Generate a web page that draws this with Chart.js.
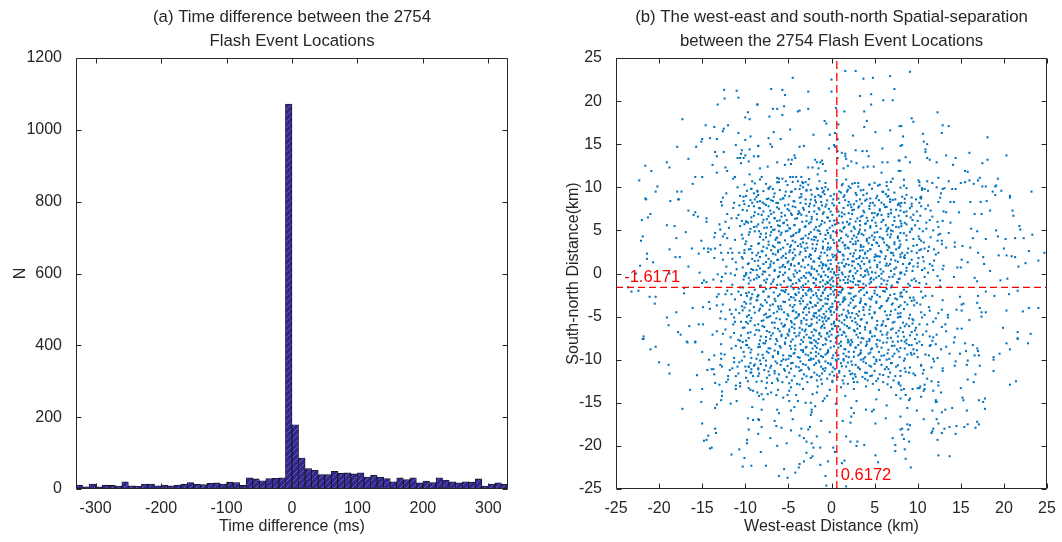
<!DOCTYPE html>
<html>
<head>
<meta charset="utf-8">
<title>Flash event separation</title>
<script src="https://cdn.jsdelivr.net/npm/chart.js@4.4.0/dist/chart.umd.min.js"></script>
<style>
  html, body { margin: 0; padding: 0; background: #fff; }
  #wrap { position: relative; width: 1062px; height: 542px; }
  canvas { position: absolute; top: 0; }
  #histChart { left: 0; }
  #scatterChart { left: 531px; }
</style>
</head>
<body>
<div id="wrap">
  <canvas id="histChart" width="531" height="542"></canvas>
  <canvas id="scatterChart" width="531" height="542"></canvas>
</div>
<script>
// ---- (a) histogram data, 10 ms bins ----
const binCenters = [
  -325, -315, -305, -295, -285, -275, -265, -255, -245, -235, -225,
  -215, -205, -195, -185, -175, -165, -155, -145, -135, -125, -115,
  -105, -95, -85, -75, -65, -55, -45, -35, -25, -15, -5,
  5, 15, 25, 35, 45, 55, 65, 75, 85, 95, 105,
  115, 125, 135, 145, 155, 165, 175, 185, 195, 205, 215,
  225, 235, 245, 255, 265, 275, 285, 295, 305, 315, 325
];
const binCounts = [
  11, 6, 14, 6, 11, 10, 8, 20, 9, 8, 14,
  14, 9, 11, 9, 11, 14, 18, 13, 12, 16, 17,
  14, 19, 18, 10, 31, 28, 23, 29, 30, 31, 1072,
  179, 86, 57, 52, 40, 40, 49, 44, 45, 42, 45,
  33, 39, 33, 29, 20, 31, 26, 31, 17, 22, 18,
  31, 25, 20, 17, 20, 19, 28, 8, 14, 17, 13
];
const histTicks = [-300, -200, -100, 0, 100, 200, 300];

// ---- (b) west-east / south-north separations (km) ----
const meanEast = 0.6172;
const meanNorth = -1.6171;

// sparse outer points
const outerPoints = [
  [-12.45,21.3],[-11.0,21.2],[-12.4,20.3],[-10.8,20.4],[-13.2,19.6],[-8.6,19.6],[-9.7,18.7],[-10.0,18.1],[-9.5,17.9],[-17.3,17.9],
  [-14.6,17.2],[-13.6,17.0],[-12.0,17.2],[-12.5,16.8],[-12.6,16.5],[-10.8,16.3],[-9.4,15.9],[-15.0,15.6],[-15.1,15.3],[-14.1,15.7],
  [-13.3,15.6],[-10.0,15.5],[-17.9,14.7],[-15.7,14.7],[-11.1,14.9],[-8.5,14.8],[-9.5,14.4],[-10.4,14.3],[-13.5,14.1],[-12.5,14.1],
  [-10.5,13.9],[-13.3,13.6],[-10.0,13.7],[-9.0,13.6],[-8.5,13.6],[-10.9,13.4],[-10.6,13.4],[-10.2,13.4],[-16.6,13.3],[-9.6,13.0],
  [-10.5,12.8],[-19.1,12.9],[-13.8,12.6],[-21.6,12.5],[-18.8,12.3],[-12.3,12.3],[-12.1,11.9],[-20.9,11.9],[-9.5,11.5],[-13.3,11.7],
  [-15.8,11.2],[-15.0,11.2],[-11.2,11.2],[-11.4,11.0],[-9.2,10.7],[-22.3,10.8],[-16.1,10.4],[-10.1,10.3],[-20.2,10.1],[-10.9,10.0],
  [-9.3,9.8],[-9.8,9.6],[-8.6,9.6],[-9.0,9.3],[-20.4,9.5],[-17.9,9.5],[-17.4,9.5],[-12.2,9.3],[-10.6,9.0],[-9.9,9.0],
  [-8.9,8.6],[-21.6,8.7],[-17.8,8.6],
  [1.6,23.5],[2.8,23.5],[0.0,22.5],[-4.5,22.7],[3.7,22.6],[4.8,22.7],[6.8,22.9],[-7.0,21.4],[-5.7,21.3],[-5.4,20.7],
  [-2.7,21.1],[0.0,21.1],[7.3,21.4],[3.3,20.6],[4.6,20.8],[6.0,20.1],[7.1,20.1],[-8.6,19.6],[-6.8,19.1],[-6.3,19.1],
  [-5.5,19.4],[-2.7,19.1],[-3.9,18.8],[-3.7,18.9],[0.5,19.2],[1.5,18.8],[4.6,19.6],[3.8,18.8],[-7.2,18.2],[-5.7,18.4],
  [4.1,17.7],[-0.8,17.7],[-0.6,17.4],[0.8,17.3],[3.8,17.0],[7.9,17.1],[-4.8,16.7],[-6.7,16.4],[-2.1,16.1],[-0.2,16.1],
  [0.4,16.3],[2.5,16.0],[5.1,16.4],[6.8,16.6],[-7.3,15.7],[-5.9,15.6],[0.7,15.6],[-7.1,15.0],[-6.9,14.7],[-8.5,14.8],
  [-3.7,14.7],[-3.2,14.8],[-0.3,14.5],[0.3,14.9],[0.4,14.7],[0.7,14.2],[1.2,14.0],[1.6,13.9],[2.8,14.3],[3.6,14.2],
  [4.1,14.2],[5.9,14.5],[8.0,14.8],[-8.5,13.6],[-5.0,13.2],[-4.6,13.2],[-4.3,13.7],[-4.2,13.4],[-6.3,12.9],[-5.4,12.6],
  [-4.7,12.7],[-1.9,13.2],[-1.7,12.9],[-1.3,12.9],[-1.1,13.1],[-1.0,12.7],[0.7,13.4],[1.6,13.6],[1.7,13.3],[2.3,13.0],
  [2.9,12.8],[4.3,13.6],[3.7,12.3],[4.2,12.4],[4.9,12.4],[5.9,12.9],[6.5,12.9],[7.8,13.1],[-8.3,12.2],[-7.4,12.4],
  [-2.7,12.3],[-2.2,12.3],[-1.5,12.2],[-0.7,11.9],[-1.6,11.5],[1.4,12.2],[1.9,12.5],[5.8,11.7],[7.8,11.9],[-8.1,11.2],
  [-6.3,11.1],[-6.1,11.0],[-5.7,11.0],[-5.3,10.7],[-4.8,11.2],[-4.5,11.2],[-4.1,11.2],[-3.5,11.2],[-3.9,10.7],[-3.4,10.6],
  [-3.0,10.6],[-2.7,10.3],[-7.6,10.4],[-6.1,10.6],[-3.6,10.2],[-3.3,10.0],[-3.7,9.8],[-2.9,9.7],[-2.4,9.7],[-1.6,9.8],
  [-1.1,9.9],[-0.9,9.6],[-0.7,10.5],[-0.8,9.2],[-1.5,9.1],[-1.9,8.9],[-1.3,8.9],[-0.1,9.0],[1.1,9.4],[1.3,10.4],
  [1.8,9.5],[1.9,9.7],[2.0,10.1],[1.7,10.9],[2.7,10.5],[3.1,10.5],[3.7,9.7],[4.4,10.3],[5.4,10.2],[5.6,10.3],
  [6.4,10.6],[7.1,11.0],[5.9,9.5],[6.3,9.2],[6.6,9.0],[3.7,9.1],[4.5,8.7],[2.9,9.1],[-8.6,9.5],[-7.3,9.8],
  [-6.8,9.8],[-4.6,9.5],[-5.3,9.5],[-7.3,8.7],[-6.7,8.9],[-5.9,8.6],[-3.5,8.9],[6.8,8.6],
  [9.1,23.4],[12.3,18.7],[9.3,18.0],[9.5,17.6],[12.9,17.2],[13.6,17.1],[8.1,17.1],[12.8,16.3],[10.6,16.2],[8.3,15.9],
  [18.1,15.8],[10.7,15.3],[11.1,15.0],[8.2,14.9],[10.9,14.4],[10.9,14.1],[16.0,14.0],[13.3,13.7],[8.6,13.5],[11.1,13.4],
  [11.4,13.2],[14.4,13.4],[20.3,13.7],[7.9,13.1],[9.1,12.9],[12.2,12.9],[18.1,13.2],[17.5,12.8],[14.1,12.6],[8.0,11.9],
  [15.5,11.9],[15.8,11.8],[12.4,11.1],[17.2,11.1],[19.3,11.0],[10.1,10.8],[10.2,10.6],[11.1,10.7],[13.6,10.7],[16.0,10.8],
  [17.0,10.8],[15.5,10.6],[15.0,10.5],[11.7,10.5],[16.5,10.4],[8.4,10.2],[10.2,10.2],[19.1,10.2],[19.0,10.1],[12.2,10.0],
  [13.1,9.9],[12.9,9.8],[14.0,9.8],[14.4,9.8],[17.5,10.1],[17.9,10.1],[8.7,9.9],[10.5,9.9],[10.8,9.8],[10.5,9.7],
  [11.2,9.6],[12.7,9.3],[18.7,9.5],[19.7,9.6],[23.2,9.5],[19.0,9.1],[20.7,9.0],[10.3,8.8],[10.4,8.9],[8.2,8.9],
  [-21.5,8.6],[-18.7,8.4],[-17.7,8.6],[-12.8,8.3],[-12.7,7.9],[-11.3,8.2],[-10.7,7.9],[-10.2,8.4],[-9.2,8.2],[-9.0,7.8],
  [-8.6,8.3],[-16.6,7.3],[-15.8,7.1],[-16.0,6.8],[-15.5,6.6],[-21.0,6.9],[-21.3,6.5],[-22.0,6.2],[-14.5,6.4],[-14.5,6.0],
  [-13.0,5.7],[-12.3,6.0],[-11.6,6.4],[-11.0,6.4],[-10.4,6.1],[-9.9,6.0],[-9.3,6.0],[-9.0,6.7],[-9.0,5.4],[-9.5,4.8],
  [-10.4,4.5],[-8.4,4.9],[-19.1,5.6],[-18.2,5.5],[-16.9,4.8],[-13.5,4.7],[-12.9,5.1],[-12.6,4.3],[-12.1,4.1],[-13.6,4.2],
  [-21.9,4.3],[-22.1,3.8],[-18.0,4.1],[-15.1,3.8],[-18.8,2.8],[-16.2,2.9],[-14.8,2.9],[-14.3,2.9],[-14.0,2.8],[-13.5,2.9],
  [-14.3,2.5],[-15.4,2.3],[-21.4,2.3],[-18.1,1.9],[-17.6,1.9],[-21.4,1.7],[-20.7,1.3],[-12.8,2.4],[-12.0,2.4],[-11.5,2.4],
  [-10.7,2.4],[-10.1,2.7],[-9.6,2.8],[-9.2,2.4],[-8.5,2.4],[-13.6,1.8],[-12.6,1.6],[-11.5,1.7],[-11.1,1.3],[-9.2,1.7],
  [-10.3,0.7],[-9.1,0.4],[-8.7,0.4],[-22.2,0.9],[-22.7,0.0],[-18.8,0.0],[-16.6,0.8],[-15.3,0.1],[-14.8,-0.8],[-14.5,-1.0],
  [-13.7,-0.7],[-15.0,-1.1],[-13.2,-0.1],[-12.7,-0.4],[-12.3,0.0],[-11.7,0.0],[-11.2,-0.2],[-10.1,-0.3],[-10.2,-0.7],[-9.6,-0.5],
  [-9.4,0.1],[-9.0,-0.7],[-8.6,-0.2],[-23.6,-1.6],[-23.2,-2.1],[-22.4,-2.0],[-21.1,-2.7],[-20.4,-2.7],[-20.5,-3.5],[-17.1,-1.7],
  [-17.1,-2.3],[-13.1,-2.4],[-12.3,-2.4],[-11.6,-2.4],[-10.8,-2.1],[-10.5,-2.5],[-9.8,-2.6],[-9.4,-3.0],[-9.2,-2.4],[-8.6,-2.7],
  [-13.3,-2.7],[-13.3,-3.7],[-14.2,-3.3],[-16.1,-4.0],[-14.9,-3.9],[-14.1,-4.1],[-12.8,-4.4],[-11.6,-4.7],[-11.1,-4.2],[-10.4,-3.8],
  [-9.9,-3.5],[-9.5,-4.3],[-9.0,-3.9],[-8.6,-3.1],[-19.1,-5.1],[-18.0,-4.5],[-18.9,-6.0],[-15.4,-5.9],[-14.9,-5.9],[-16.5,-6.1],
  [-12.3,-5.3],[-11.3,-5.1],[-11.2,-5.6],[-10.5,-5.6],[-9.7,-5.8],[-9.4,-5.5],[-8.9,-6.0],[-13.3,-6.7],[-12.6,-7.0],[-13.8,-7.1],
  [-17.8,-6.8],[-17.5,-7.1],[-21.8,-7.3],[-21.9,-7.6],[-11.3,-6.9],[-10.8,-7.7],[-16.8,-7.9],[-15.8,-7.9],
  [8.5,8.2],[8.1,8.2],[9.3,8.1],[10.2,8.2],[10.4,8.7],[12.4,8.3],[13.8,8.3],[14.2,8.3],[16.1,8.3],[17.3,8.3],
  [18.0,8.4],[20.7,8.8],[8.0,7.3],[8.7,7.2],[9.3,7.8],[9.9,7.2],[10.4,7.8],[10.9,7.5],[11.5,7.3],[13.0,7.2],
  [13.3,7.1],[14.8,7.1],[16.6,6.9],[17.4,6.9],[18.4,7.3],[21.0,7.3],[21.1,6.7],[9.2,6.5],[9.4,6.2],[10.0,6.1],
  [11.0,5.9],[11.4,6.2],[12.3,6.0],[13.8,5.9],[8.1,5.5],[8.7,5.7],[9.3,5.1],[10.2,5.2],[10.6,4.9],[11.8,5.0],
  [12.6,4.6],[12.4,4.5],[13.6,4.7],[16.2,5.2],[16.9,4.9],[19.1,5.0],[21.8,5.5],[21.9,5.1],[23.3,4.5],[8.0,4.7],
  [8.7,4.4],[9.5,4.0],[10.2,4.0],[10.4,3.8],[10.7,3.6],[12.3,3.8],[12.8,3.8],[14.3,3.6],[16.4,4.1],[17.9,4.0],
  [19.3,4.3],[20.2,4.0],[21.3,4.1],[22.3,4.1],[7.9,3.1],[8.9,2.9],[10.4,2.8],[10.8,2.9],[11.2,2.6],[11.9,2.8],
  [12.4,2.4],[13.3,3.0],[14.3,3.1],[15.2,3.2],[16.1,3.0],[17.0,2.4],[17.6,1.9],[19.4,2.1],[20.0,2.9],[20.3,2.1],
  [20.9,2.0],[21.3,1.9],[22.9,2.6],[24.7,2.4],[8.2,2.4],[8.8,2.4],[9.9,2.4],[10.2,2.7],[8.5,1.8],[9.3,1.6],
  [10.1,1.8],[10.7,1.4],[10.0,1.2],[8.3,1.1],[9.0,1.1],[10.8,0.6],[11.4,1.1],[11.7,0.9],[15.1,1.6],[15.8,1.3],
  [14.6,0.7],[15.0,0.7],[12.9,0.5],[17.7,1.1],[18.4,0.3],[21.7,0.8],[22.5,1.2],[24.0,1.5],[8.0,0.0],[8.7,0.3],
  [9.4,0.3],[9.6,-0.6],[10.8,-0.4],[10.5,0.4],[11.8,0.4],[12.6,-0.8],[14.2,-0.4],[16.6,-0.5],[16.9,-0.9],[19.6,-0.8],
  [20.4,-0.6],[8.9,-1.2],[10.2,-1.1],[8.1,-2.2],[8.2,-2.7],[9.1,-2.8],[9.6,-3.1],[8.8,-3.6],[9.6,-3.7],[10.3,-3.6],
  [10.9,-2.6],[10.6,-2.8],[10.4,-4.5],[10.8,-4.8],[11.4,-4.3],[12.8,-4.2],[13.5,-4.8],[14.5,-4.2],[14.9,-2.7],[15.1,-3.6],
  [15.3,-3.5],[17.0,-2.6],[16.9,-3.4],[17.2,-4.0],[17.9,-2.1],[18.9,-2.6],[20.6,-2.4],[21.6,-2.0],[22.9,-4.0],[24.0,-4.0],
  [20.3,-4.3],[22.2,-4.4],[15.1,-4.3],[17.4,-4.5],[17.9,-4.5],[17.4,-5.0],[16.0,-5.4],[8.0,-3.7],[7.9,-5.0],[9.0,-5.2],
  [9.4,-5.3],[8.3,-5.7],[9.4,-5.8],[9.0,-6.1],[10.2,-5.9],[11.1,-5.9],[12.1,-5.2],[13.5,-5.1],[13.2,-5.9],[15.1,-6.4],
  [14.6,-6.4],[19.9,-6.3],[21.6,-6.8],[23.1,-7.0],[21.6,-7.5],[8.3,-6.8],[9.7,-6.6],[9.9,-7.1],[10.6,-7.1],[11.4,-7.3],
  [11.8,-7.4],[13.3,-6.7],[14.3,-7.4],[8.1,-7.8],[8.5,-7.9],
  [-21.8,-7.6],[-21.0,-8.8],[-20.4,-8.5],[-16.7,-8.0],[-15.8,-8.0],[-10.6,-7.8],[-9.8,-8.3],[-9.6,-8.6],[-8.4,-8.2],[-20.0,-10.3],
  [-18.9,-10.6],[-18.8,-11.6],[-15.0,-9.1],[-13.6,-9.5],[-12.8,-9.3],[-14.2,-10.0],[-13.9,-11.1],[-13.7,-11.1],[-14.4,-11.2],[-13.6,-11.7],
  [-12.8,-9.9],[-11.6,-8.7],[-11.3,-10.3],[-10.7,-10.3],[-10.9,-10.8],[-11.5,-11.0],[-10.0,-10.8],[-9.6,-10.8],[-9.3,-9.8],[-9.4,-10.4],
  [-9.0,-10.7],[-9.3,-11.1],[-9.9,-11.3],[-9.4,-11.5],[-8.5,-11.0],[-8.5,-11.9],[-9.1,-11.9],[-10.5,-8.6],[-12.7,-10.8],[-15.6,-11.8],
  [-12.0,-11.9],[-12.0,-12.3],[-11.1,-11.9],[-13.5,-12.7],[-13.0,-12.9],[-10.6,-12.7],[-11.1,-13.0],[-11.1,-13.4],[-9.7,-12.5],[-9.6,-13.3],
  [-9.4,-13.5],[-9.1,-13.6],[-16.4,-13.5],[-15.0,-13.4],[-12.7,-13.7],[-12.7,-14.2],[-12.8,-14.7],[-11.0,-14.8],[-11.7,-15.1],[-13.3,-15.2],
  [-13.5,-15.6],[-15.1,-14.9],[-17.3,-15.7],[-8.4,-14.2],[-9.2,-15.5],[-9.7,-16.8],[-9.1,-17.0],[-8.4,-17.0],[-15.0,-17.4],[-13.5,-18.0],
  [-13.4,-18.5],[-14.3,-18.8],[-14.5,-19.3],[-14.8,-19.4],[-9.6,-18.1],[-8.5,-18.6],[-9.8,-19.3],[-9.8,-19.7],[-13.9,-20.2],[-14.1,-20.3],
  [-10.7,-20.4],[-11.6,-21.0],[-10.1,-21.4],[-10.3,-22.4],[-9.3,-22.3],
  [-8.6,-13.8],[-8.1,-14.0],[-7.4,-14.0],[-7.0,-13.8],[-6.4,-14.1],[-4.9,-13.6],[-5.1,-14.1],[-4.9,-14.8],[-4.1,-14.1],[-3.9,-14.8],
  [-3.0,-15.0],[-2.4,-15.0],[-2.2,-14.0],[-1.0,-14.8],[-0.8,-14.5],[-0.5,-14.2],[-1.7,-13.8],[-8.1,-15.8],[-6.3,-15.8],[-6.1,-16.2],
  [-8.5,-16.9],[-6.6,-17.1],[-6.4,-17.7],[-8.1,-17.8],[-4.7,-15.9],[-4.5,-16.9],[-2.3,-15.8],[-2.3,-16.1],[-2.4,-16.4],[-1.2,-17.1],
  [-2.5,-17.8],[-2.7,-18.1],[-3.5,-18.0],[-3.7,-18.8],[-3.2,-19.1],[-2.9,-19.5],[-2.3,-19.7],[-1.7,-18.9],[-4.7,-18.2],[-5.8,-17.9],
  [-7.1,-19.1],[-6.3,-20.0],[-8.2,-20.7],[-5.2,-19.7],[-2.1,-20.2],[-1.3,-20.2],[-2.9,-20.8],[-2.2,-21.2],[-2.4,-21.4],[-3.2,-21.8],
  [-1.3,-22.2],[-0.4,-21.8],[-0.2,-18.4],[0.2,-20.2],[-3.7,-22.1],[-3.8,-22.5],[-4.2,-23.1],[-5.5,-22.7],[-7.6,-22.3],[-6.1,-23.5],
  [-5.1,-23.7],[-0.7,-23.5],[-0.6,-24.6],[1.7,-24.7],[0.4,-20.7],[1.2,-22.0],[1.5,-21.7],[2.2,-19.5],[1.7,-18.9],[1.3,-17.1],
  [2.2,-17.3],[2.9,-20.0],[3.8,-19.9],[3.0,-19.5],[5.1,-21.1],[5.4,-21.9],[7.4,-19.9],[7.4,-20.6],[7.1,-19.1],[6.3,-16.8],
  [5.1,-17.4],[2.3,-16.6],[2.6,-16.2],[4.7,-16.0],[4.9,-15.8],[4.0,-15.8],[2.3,-15.6],[8.0,-18.1],
  [8.7,-7.7],[9.7,-7.6],[11.7,-7.8],[8.5,-8.7],[9.0,-8.3],[9.3,-8.3],[9.9,-8.1],[10.5,-8.3],[11.4,-8.4],[12.1,-8.2],
  [13.3,-8.5],[14.2,-8.0],[15.5,-8.1],[16.4,-8.3],[16.9,-8.7],[20.3,-8.1],[21.6,-7.6],[22.8,-8.1],[20.7,-8.8],[8.8,-9.4],
  [9.2,-9.2],[9.6,-9.3],[10.0,-9.7],[11.3,-9.5],[11.8,-9.9],[11.9,-10.2],[13.7,-9.3],[14.9,-9.3],[15.6,-9.0],[15.8,-10.1],
  [15.7,-10.6],[16.6,-9.5],[17.1,-9.5],[17.0,-9.0],[18.8,-9.7],[18.8,-10.0],[19.5,-9.3],[14.4,-10.2],[14.3,-10.7],[17.2,-10.7],
  [12.9,-11.0],[8.5,-11.0],[9.1,-10.9],[8.6,-11.4],[9.0,-11.5],[9.5,-11.6],[10.4,-10.7],[10.7,-11.2],[10.6,-11.6],[16.7,-11.7],
  [18.8,-11.3],[11.6,-12.5],[12.4,-13.0],[15.8,-12.3],[16.5,-12.6],[15.0,-13.3],[21.4,-12.5],[20.7,-12.9],[8.0,-13.0],[8.1,-13.5],
  [8.4,-13.4],[9.4,-13.4],[10.0,-13.3],[10.2,-13.3],[10.8,-12.9],[10.8,-13.4],[10.7,-13.6],[8.6,-14.1],[10.4,-14.3],[12.7,-13.8],
  [8.0,-14.5],[9.0,-14.7],[9.1,-14.5],[12.1,-14.7],[12.1,-14.9],[12.2,-14.9],[15.2,-14.4],[15.3,-14.7],[17.1,-14.7],[17.6,-14.9],
  [17.8,-14.5],[8.8,-15.6],[9.9,-15.9],[11.7,-15.9],[12.8,-16.1],[13.2,-15.8],[14.0,-15.6],[15.7,-15.9],[17.8,-15.7],[8.0,-16.6],
  [10.7,-16.9],[12.2,-16.9],[16.9,-17.2],[17.1,-17.5],[8.8,-17.5],[9.1,-17.6],[12.4,-17.4],[11.8,-18.0],[11.7,-18.3],[11.6,-18.5],
  [13.1,-18.0],[13.7,-17.8],[14.5,-17.7],[15.4,-17.8],[15.8,-17.5],[16.7,-17.9],[8.2,-18.0],[8.9,-18.1],[8.2,-18.7],[12.8,-18.5],
  [14.4,-18.6],[8.4,-19.2],[9.0,-19.5],[12.3,-19.3],[8.5,-20.4],[12.4,-21.1],[13.7,-21.2],[8.6,-21.5],[9.2,-22.5]
];

// transition ring between the dense core and the sparse edge
const ringPoints = [
  [-12.6,8.8],[-11.4,7.6],[-10.2,8.9],[-12.1,6.9],[-10.8,6.8],[-9.8,7.3],[-11.9,5.3],[-10.6,5.5],[-9.7,5.9],[-12.4,4.6],
  [-11.2,3.9],[-10.0,3.4],[-12.9,3.3],[-11.7,2.9],[-10.4,1.9],[-9.7,1.1],[-12.2,0.8],[-11.0,0.5],[-9.9,-0.1],[-12.8,-0.9],
  [-11.5,-1.3],[-10.6,-1.6],[-9.6,-2.2],[-12.1,-2.0],[-11.2,-3.0],[-10.1,-3.3],[-12.6,-3.6],[-11.8,-4.2],[-10.7,-4.6],[-9.8,-5.0],
  [-12.9,-5.2],[-11.4,-5.9],[-10.3,-6.3],[-9.7,-6.9],[-12.3,-6.5],[-11.7,-7.4],[-10.5,-7.2],[-9.9,-7.8],[-12.8,-8.2],[-11.1,-8.4],
  [-10.2,-9.1],[-12.4,-9.4],[-11.3,-9.8],[-10.4,-10.1],[-12.9,-10.6],[-11.8,-11.2],[-10.8,-11.6],[-9.9,-12.1],[-12.2,-12.6],[-10.6,-13.1],
  [9.8,8.6],[11.2,7.9],[12.6,8.8],[10.3,6.7],[11.7,6.6],[12.9,6.1],[9.7,5.6],[11.0,5.2],[12.4,5.4],[10.1,4.3],
  [11.5,4.2],[12.8,3.4],[9.9,3.3],[11.3,3.1],[12.1,2.2],[10.6,1.9],[11.9,1.5],[13.0,0.9],[10.0,0.8],[11.2,0.1],
  [12.3,-0.3],[9.8,-0.9],[11.0,-1.2],[12.6,-1.5],[10.4,-2.1],[11.7,-2.6],[12.9,-3.1],[9.9,-3.4],[11.3,-3.9],[12.4,-4.6],
  [10.5,-5.1],[11.8,-5.6],[12.8,-6.2],[9.8,-6.3],[11.0,-6.7],[12.2,-7.1],[10.2,-7.9],[11.5,-8.3],[12.7,-8.8],[9.9,-8.9],
  [10.9,-9.4],[12.3,-9.8],[10.4,-10.6],[11.6,-10.9],[12.9,-11.3],[9.7,-11.8],[11.1,-12.2],[12.4,-12.6],[10.3,-13.1],[11.8,-13.6],
  [-7.9,-14.6],[-5.6,-14.4],[-4.3,-15.5],[-1.9,-15.4],[0.5,-15.1],[1.6,-14.2],[2.9,-14.8],[5.2,-14.6],[6.4,-15.3],[7.5,-14.1]
];

// dense central cloud, estimated band by band (first layer)
const corePoints = [
  [-8.3,8.4],[-7.8,8.1],[-7.0,8.5],[-6.4,8.2],[-5.6,8.7],[-5.0,8.0],[-4.4,8.4],[-3.6,8.2],[-3.0,8.6],[-2.5,8.1],[-1.9,8.5],[-1.2,8.3],[-0.6,8.0],[0.2,8.6],[0.9,8.2],[1.6,8.5],[2.2,8.0],[2.9,8.4],[3.5,8.1],[4.1,8.6],[4.8,8.2],[5.5,8.5],[6.1,8.0],[6.8,8.3],[7.4,8.6],[7.9,8.1],
  [-8.4,7.6],[-7.9,7.2],[-7.3,7.8],[-6.7,7.1],[-6.1,7.5],[-5.4,7.9],[-4.9,7.3],[-4.2,7.7],[-3.7,7.0],[-3.2,7.4],[-2.6,7.8],[-2.0,7.2],[-1.5,7.6],[-0.9,7.1],[-0.3,7.5],[0.3,7.9],[0.8,7.2],[1.4,7.6],[2.0,7.0],[2.6,7.4],[3.2,7.8],[3.8,7.1],[4.4,7.5],[5.0,7.9],[5.6,7.3],[6.2,7.7],[6.9,7.0],[7.5,7.4],[8.0,7.8],[-1.1,7.9],[2.3,7.7],[4.7,7.0],
  [-8.1,6.8],[-7.5,6.3],[-7.0,6.9],[-6.3,6.1],[-5.8,6.6],[-5.2,6.2],[-4.6,6.8],[-4.0,6.4],[-3.4,6.0],[-2.9,6.7],[-2.3,6.3],[-1.7,6.9],[-1.1,6.1],[-0.5,6.5],[0.1,6.8],[0.6,6.2],[1.2,6.6],[1.8,6.0],[2.4,6.9],[3.0,6.4],[3.6,6.7],[4.2,6.1],[4.9,6.5],[5.4,6.9],[6.0,6.2],[6.6,6.6],[7.3,6.1],[7.8,6.7],[-6.6,6.4],[-0.2,6.1],[3.3,6.1],[5.8,6.8],[-3.9,6.9],
  [-8.5,5.7],[-7.8,5.3],[-7.2,5.9],[-6.6,5.1],[-6.0,5.5],[-5.5,5.9],[-4.8,5.2],[-4.3,5.6],[-3.7,5.0],[-3.1,5.4],[-2.6,5.8],[-2.0,5.1],[-1.4,5.5],[-0.8,5.9],[-0.2,5.3],[0.4,5.7],[1.0,5.0],[1.5,5.4],[2.1,5.8],[2.7,5.2],[3.3,5.6],[3.9,5.0],[4.5,5.5],[5.1,5.9],[5.7,5.2],[6.3,5.6],[6.9,5.0],[7.5,5.4],[8.1,5.8],[-5.1,5.6],[-1.6,5.0],[1.3,5.9],[4.0,5.8],[6.6,5.3],[-7.0,5.4],
  [-8.2,4.6],[-7.6,4.2],[-7.0,4.8],[-6.4,4.1],[-5.9,4.5],[-5.3,4.9],[-4.7,4.3],[-4.1,4.7],[-3.5,4.0],[-3.0,4.4],[-2.4,4.8],[-1.8,4.2],[-1.3,4.6],[-0.7,4.0],[-0.1,4.4],[0.5,4.8],[1.1,4.1],[1.7,4.5],[2.3,4.9],[2.9,4.2],[3.5,4.6],[4.1,4.0],[4.7,4.4],[5.3,4.8],[5.9,4.1],[6.5,4.5],[7.1,4.9],[7.7,4.3],[-2.7,4.1],[0.2,4.9],[2.6,4.4],[5.0,4.2],[-6.1,4.9],[-4.4,4.5],[3.2,4.8],[6.8,4.2],[-0.4,4.7],
  [-8.4,3.5],[-7.9,3.1],[-7.3,3.7],[-6.8,3.2],[-6.2,3.6],[-5.6,3.0],[-5.1,3.4],[-4.5,3.8],[-3.9,3.2],[-3.3,3.6],[-2.8,3.0],[-2.2,3.4],[-1.6,3.8],[-1.0,3.1],[-0.4,3.5],[0.2,3.9],[0.7,3.2],[1.3,3.6],[1.9,3.0],[2.5,3.4],[3.1,3.8],[3.7,3.1],[4.3,3.5],[4.9,3.9],[5.5,3.2],[6.1,3.6],[6.7,3.0],[7.3,3.4],[7.9,3.8],[-4.8,3.1],[-2.0,3.9],[-0.1,3.0],[1.6,3.3],[3.4,3.3],[5.2,3.6],[-6.5,3.9],[-3.6,3.4],[0.9,3.8],[2.8,3.7],[6.4,3.3],
  [-8.1,2.6],[-7.6,2.1],[-7.0,2.7],[-6.5,2.2],[-5.9,2.8],[-5.3,2.3],[-4.8,2.7],[-4.2,2.1],[-3.6,2.5],[-3.1,2.9],[-2.5,2.2],[-1.9,2.6],[-1.3,2.0],[-0.8,2.4],[-0.2,2.8],[0.4,2.1],[1.0,2.5],[1.6,2.9],[2.2,2.3],[2.8,2.7],[3.3,2.0],[3.9,2.4],[4.5,2.8],[5.1,2.2],[5.7,2.6],[6.3,2.0],[6.9,2.4],[7.5,2.8],[8.0,2.2],[-4.5,2.4],[-2.2,2.9],[-0.5,2.1],[1.3,2.2],[3.6,2.7],[5.4,2.0],[-6.2,2.5],[-1.0,2.9],[0.7,2.7],[2.5,2.0],[4.2,2.6],[7.2,2.1],
  [-8.5,1.5],[-7.9,1.1],[-7.3,1.7],[-6.7,1.2],[-6.2,1.6],[-5.6,1.0],[-5.0,1.4],[-4.4,1.8],[-3.8,1.2],[-3.3,1.6],[-2.7,1.0],[-2.1,1.4],[-1.5,1.8],[-1.0,1.1],[-0.4,1.5],[0.2,1.9],[0.8,1.2],[1.4,1.6],[2.0,1.0],[2.6,1.4],[3.2,1.8],[3.8,1.1],[4.4,1.5],[5.0,1.9],[5.6,1.3],[6.2,1.7],[6.8,1.1],[7.4,1.5],[8.0,1.9],[-4.7,1.1],[-3.0,1.9],[-1.2,1.3],[0.5,1.6],[1.7,1.1],[2.9,1.7],[4.1,1.8],[-0.1,1.1],[-2.4,1.7],[3.5,1.4],[5.3,1.0],[-5.3,1.8],[-7.0,1.4],
  [-8.3,0.6],[-7.7,0.2],[-7.1,0.8],[-6.6,0.3],[-6.0,0.7],[-5.4,0.1],[-4.9,0.5],[-4.3,0.9],[-3.7,0.3],[-3.1,0.7],[-2.6,0.1],[-2.0,0.5],[-1.4,0.9],[-0.9,0.2],[-0.3,0.6],[0.3,0.0],[0.9,0.4],[1.5,0.8],[2.1,0.2],[2.7,0.6],[3.3,0.9],[3.9,0.3],[4.5,0.7],[5.1,0.1],[5.7,0.5],[6.3,0.9],[6.9,0.3],[7.5,0.7],[8.1,0.1],[-1.7,0.3],[-0.6,0.9],[0.1,0.5],[0.6,0.8],[1.2,0.1],[-2.3,0.8],[-4.0,0.1],[2.4,0.9],[4.2,0.2],[-5.7,0.8],[3.0,0.3],[-1.1,0.6],[-0.1,0.2],
  [-8.4,-0.4],[-7.8,-0.8],[-7.2,-0.2],[-6.7,-0.7],[-6.1,-0.3],[-5.5,-0.9],[-5.0,-0.5],[-4.4,-0.1],[-3.8,-0.7],[-3.2,-0.3],[-2.7,-0.9],[-2.1,-0.5],[-1.5,-0.1],[-1.0,-0.8],[-0.4,-0.4],[0.2,-0.9],[0.8,-0.5],[1.3,-0.1],[1.9,-0.7],[2.5,-0.3],[3.1,-0.9],[3.7,-0.4],[4.3,-0.1],[4.9,-0.7],[5.5,-0.3],[6.1,-0.8],[6.7,-0.4],[7.3,-0.1],[7.9,-0.6],[-1.8,-0.7],[-0.7,-0.2],[0.0,-0.6],[0.5,-0.2],[1.0,-0.8],[-2.4,-0.2],[-3.5,-0.5],[1.6,-0.4],[2.2,-0.9],[-4.7,-0.8],[3.4,-0.2],[-1.2,-0.4],[-0.2,-0.8],[4.6,-0.5],[5.8,-0.6],
  [-8.2,-1.4],[-7.6,-1.8],[-7.0,-1.2],[-6.4,-1.7],[-5.9,-1.3],[-5.3,-1.9],[-4.7,-1.5],[-4.1,-1.1],[-3.5,-1.6],[-3.0,-1.2],[-2.4,-1.8],[-1.8,-1.4],[-1.3,-1.0],[-0.7,-1.7],[-0.1,-1.3],[0.4,-1.9],[1.0,-1.5],[1.6,-1.1],[2.2,-1.7],[2.8,-1.3],[3.4,-1.9],[4.0,-1.4],[4.6,-1.0],[5.2,-1.6],[5.8,-1.2],[6.4,-1.8],[7.0,-1.4],[7.6,-1.0],[-1.5,-1.9],[-0.4,-1.1],[0.2,-1.5],[0.7,-1.2],[-2.1,-1.1],[-1.0,-1.5],[1.3,-1.8],[-3.3,-1.9],[2.5,-1.0],[-4.4,-1.8],[3.7,-1.2],[-0.8,-1.9],
  [-8.5,-2.5],[-7.9,-2.1],[-7.3,-2.7],[-6.7,-2.2],[-6.2,-2.6],[-5.6,-2.0],[-5.0,-2.4],[-4.4,-2.8],[-3.8,-2.2],[-3.3,-2.6],[-2.7,-2.0],[-2.1,-2.5],[-1.5,-2.9],[-1.0,-2.2],[-0.4,-2.6],[0.2,-2.1],[0.8,-2.5],[1.4,-2.9],[2.0,-2.3],[2.6,-2.7],[3.2,-2.1],[3.8,-2.5],[4.4,-2.9],[5.0,-2.3],[5.6,-2.7],[6.2,-2.1],[6.8,-2.5],[7.4,-2.9],[8.0,-2.3],[-1.8,-2.3],[-0.7,-2.9],[0.5,-2.8],[-2.4,-2.8],[-0.1,-2.4],[1.1,-2.2],[-4.1,-2.5],[2.3,-2.9],[-3.0,-2.3],[4.1,-2.2],[-1.2,-2.6],
  [-8.2,-3.6],[-7.7,-3.1],[-7.1,-3.7],[-6.5,-3.2],[-5.9,-3.8],[-5.4,-3.3],[-4.8,-3.7],[-4.2,-3.1],[-3.6,-3.5],[-3.0,-3.9],[-2.5,-3.3],[-1.9,-3.7],[-1.3,-3.1],[-0.7,-3.5],[-0.1,-3.9],[0.4,-3.2],[1.0,-3.6],[1.6,-3.0],[2.2,-3.4],[2.8,-3.8],[3.4,-3.2],[4.0,-3.6],[4.6,-3.0],[5.2,-3.4],[5.8,-3.8],[6.4,-3.2],[7.0,-3.6],[7.6,-3.0],[-1.6,-3.4],[-0.4,-3.0],[0.7,-3.9],[-2.2,-3.9],[-1.0,-3.8],[1.3,-3.3],[-3.3,-3.2],[2.5,-3.1],[-4.5,-3.9],[0.1,-3.5],[3.7,-3.9],[-2.8,-3.6],
  [-8.4,-4.3],[-7.8,-4.8],[-7.2,-4.2],[-6.7,-4.6],[-6.1,-4.1],[-5.5,-4.5],[-5.0,-4.9],[-4.4,-4.3],[-3.8,-4.7],[-3.2,-4.1],[-2.6,-4.5],[-2.1,-4.9],[-1.5,-4.3],[-0.9,-4.7],[-0.3,-4.1],[0.3,-4.5],[0.9,-4.9],[1.4,-4.2],[2.0,-4.6],[2.6,-4.0],[3.2,-4.4],[3.8,-4.8],[4.4,-4.2],[5.0,-4.6],[5.6,-4.0],[6.2,-4.4],[6.8,-4.8],[7.4,-4.2],[8.0,-4.6],[-1.2,-4.1],[-0.6,-4.4],[0.0,-4.8],[-1.8,-4.6],[0.6,-4.2],[-2.9,-4.8],[1.7,-4.9],[-4.1,-4.5],[-0.1,-4.3],[2.9,-4.7],[-1.4,-4.9],
  [-8.1,-5.5],[-7.5,-5.1],[-6.9,-5.7],[-6.4,-5.2],[-5.8,-5.8],[-5.2,-5.3],[-4.6,-5.7],[-4.0,-5.1],[-3.5,-5.5],[-2.9,-5.9],[-2.3,-5.3],[-1.7,-5.7],[-1.1,-5.1],[-0.6,-5.5],[0.0,-5.9],[0.6,-5.3],[1.2,-5.7],[1.8,-5.1],[2.4,-5.5],[3.0,-5.9],[3.5,-5.3],[4.1,-5.7],[4.7,-5.1],[5.3,-5.5],[5.9,-5.9],[6.5,-5.3],[7.1,-5.7],[7.7,-5.1],[-1.4,-5.4],[-0.9,-5.9],[-0.3,-5.2],[0.3,-5.6],[-2.0,-5.0],[1.5,-5.4],[-3.2,-5.2],[-4.3,-5.9],[2.7,-5.2],[-0.8,-5.2],
  [-8.4,-6.6],[-7.8,-6.2],[-7.2,-6.8],[-6.6,-6.3],[-6.0,-6.7],[-5.5,-6.1],[-4.9,-6.5],[-4.3,-6.9],[-3.7,-6.3],[-3.1,-6.7],[-2.6,-6.1],[-2.0,-6.5],[-1.4,-6.9],[-0.8,-6.3],[-0.2,-6.7],[0.4,-6.1],[1.0,-6.5],[1.5,-6.9],[2.1,-6.3],[2.7,-6.7],[3.3,-6.1],[3.9,-6.5],[4.5,-6.9],[5.1,-6.3],[5.7,-6.7],[6.3,-6.1],[6.9,-6.5],[7.5,-6.9],[8.0,-6.3],[-1.1,-6.1],[-0.5,-6.9],[0.7,-6.8],[-2.3,-6.8],[1.8,-6.1],[-3.4,-6.5],[3.0,-6.4],[-4.6,-6.2],[0.1,-6.4],
  [-8.2,-7.3],[-7.6,-7.8],[-7.0,-7.2],[-6.4,-7.6],[-5.8,-7.1],[-5.3,-7.5],[-4.7,-7.9],[-4.1,-7.3],[-3.5,-7.7],[-2.9,-7.1],[-2.4,-7.5],[-1.8,-7.9],[-1.2,-7.3],[-0.6,-7.7],[0.0,-7.1],[0.5,-7.5],[1.1,-7.9],[1.7,-7.3],[2.3,-7.7],[2.9,-7.1],[3.5,-7.5],[4.1,-7.9],[4.7,-7.3],[5.3,-7.7],[5.9,-7.1],[6.5,-7.5],[7.1,-7.9],[7.7,-7.3],[-1.5,-7.6],[-0.3,-7.3],[0.8,-7.2],[-2.1,-7.2],[2.0,-7.9],[-3.2,-7.4],[4.4,-7.6],[-5.0,-7.2],
  [-8.3,-8.5],[-7.7,-8.1],[-7.1,-8.7],[-6.5,-8.2],[-5.9,-8.6],[-5.4,-8.0],[-4.8,-8.4],[-4.2,-8.8],[-3.6,-8.2],[-3.0,-8.6],[-2.5,-8.0],[-1.9,-8.4],[-1.3,-8.8],[-0.7,-8.2],[-0.1,-8.6],[0.5,-8.0],[1.1,-8.4],[1.6,-8.8],[2.2,-8.2],[2.8,-8.6],[3.4,-8.0],[4.0,-8.4],[4.6,-8.8],[5.2,-8.2],[5.8,-8.6],[6.4,-8.0],[7.0,-8.4],[7.6,-8.8],[-1.6,-8.1],[-0.4,-8.9],[0.8,-8.6],[-2.2,-8.7],[1.9,-8.0],[-3.3,-8.9],[3.1,-8.3],
  [-8.5,-9.4],[-7.9,-9.8],[-7.3,-9.2],[-6.8,-9.6],[-6.2,-9.1],[-5.6,-9.5],[-5.0,-9.9],[-4.4,-9.3],[-3.9,-9.7],[-3.3,-9.1],[-2.7,-9.5],[-2.1,-9.9],[-1.5,-9.3],[-1.0,-9.7],[-0.4,-9.1],[0.2,-9.5],[0.8,-9.9],[1.4,-9.3],[2.0,-9.7],[2.6,-9.1],[3.1,-9.5],[3.7,-9.9],[4.3,-9.3],[4.9,-9.7],[5.5,-9.1],[6.1,-9.5],[6.7,-9.9],[7.3,-9.3],[7.9,-9.7],[-1.8,-9.6],[-0.7,-9.4],[0.5,-9.2],[1.7,-9.6],[-2.4,-9.2],[3.4,-9.2],[-4.7,-9.6],
  [-8.2,-10.5],[-7.6,-10.1],[-7.0,-10.7],[-6.5,-10.2],[-5.9,-10.6],[-5.3,-10.0],[-4.7,-10.4],[-4.1,-10.8],[-3.6,-10.2],[-3.0,-10.6],[-2.4,-10.0],[-1.8,-10.4],[-1.2,-10.8],[-0.7,-10.2],[-0.1,-10.6],[0.5,-10.0],[1.1,-10.4],[1.7,-10.8],[2.3,-10.2],[2.8,-10.6],[3.4,-10.0],[4.0,-10.4],[4.6,-10.8],[5.2,-10.2],[5.8,-10.6],[6.4,-10.0],[7.0,-10.4],[7.5,-10.8],[-1.5,-10.1],[0.2,-10.9],[1.4,-10.1],[-2.7,-10.9],[3.1,-10.9],[-0.4,-10.4],
  [-8.4,-11.6],[-7.8,-11.2],[-7.2,-11.8],[-6.6,-11.3],[-6.1,-11.7],[-5.5,-11.1],[-4.9,-11.5],[-4.3,-11.9],[-3.7,-11.3],[-3.2,-11.7],[-2.6,-11.1],[-2.0,-11.5],[-1.4,-11.9],[-0.8,-11.3],[-0.2,-11.7],[0.4,-11.1],[0.9,-11.5],[1.5,-11.9],[2.1,-11.3],[2.7,-11.7],[3.3,-11.1],[3.9,-11.5],[4.5,-11.9],[5.0,-11.3],[5.6,-11.7],[6.2,-11.1],[6.8,-11.5],[7.4,-11.9],[8.0,-11.3],[-1.1,-11.6],[0.1,-11.4],[2.4,-11.6],
  [-8.1,-12.5],[-7.5,-12.1],[-6.9,-12.7],[-6.3,-12.2],[-5.7,-12.6],[-5.2,-12.0],[-4.6,-12.4],[-4.0,-12.8],[-3.4,-12.2],[-2.8,-12.6],[-2.3,-12.0],[-1.7,-12.4],[-1.1,-12.8],[-0.5,-12.2],[0.1,-12.6],[0.7,-12.0],[1.3,-12.4],[1.9,-12.8],[2.5,-12.2],[3.0,-12.6],[3.6,-12.0],[4.2,-12.4],[4.8,-12.8],[5.4,-12.2],[6.0,-12.6],[6.6,-12.0],[7.2,-12.4],[7.8,-12.8],
  [-7.6,-13.3],[-6.2,-13.5],[-4.7,-13.2],[-3.3,-13.4],[-1.6,-13.1],[-0.2,-13.5],[1.1,-13.2],[2.6,-13.4],[4.0,-13.1],[5.5,-13.5],[6.9,-13.2]
];

// dense central cloud, second estimated layer
const corePoints2 = [
  [-8.9,10.45],[-8.3,10.91],[-7.1,10.06],[-6.3,10.58],[-5.1,10.27],[-4.5,10.63],[-3.3,10.49],[-2.6,10.95],[-1.4,10.71],[-0.7,10.02],[0.6,10.86],[1.2,10.24],[2.4,10.41],[3.1,10.09],[4.4,10.31],[5.0,10.52],[6.4,10.15],[6.9,10.62],[8.4,10.88],
  [-9.3,9.83],[-8.5,9.11],[-7.9,9.56],[-7.3,9.94],[-6.6,9.29],[-6.0,9.68],[-5.4,9.04],[-4.7,9.47],[-4.2,9.79],[-3.5,9.22],[-2.9,9.61],[-2.3,9.15],[-1.7,9.88],[-1.0,9.43],[-0.4,9.76],[0.3,9.19],[0.9,9.52],[1.5,9.07],[2.2,9.92],[2.8,9.34],[3.4,9.65],[4.1,9.28],[4.7,9.83],[5.3,9.01],[6.0,9.45],[6.6,9.73],[7.3,9.39],[8.0,9.96],[8.7,9.12],
  [-10.1,8.05],[-9.4,8.51],[-8.7,8.89],[-8.0,8.24],[-7.5,8.64],[-6.8,8.42],[-6.2,8.17],[-5.6,8.73],[-4.9,8.96],[-4.3,8.35],[-3.7,8.81],[-3.0,8.08],[-2.4,8.57],[-1.8,8.26],[-1.2,8.93],[-0.5,8.48],[0.1,8.14],[0.8,8.69],[1.4,8.87],[2.0,8.31],[2.6,8.03],[3.3,8.59],[3.9,8.46],[4.5,8.16],[5.2,8.74],[5.8,8.22],[6.5,8.91],[7.1,8.53],[7.8,8.11],[8.5,8.67],[9.3,8.82],
  [-10.3,7.37],[-9.6,7.83],[-8.9,7.11],[-8.3,7.56],[-7.6,7.94],[-7.1,7.29],[-6.3,7.68],[-5.8,7.04],[-5.1,7.47],[-4.5,7.79],[-3.8,7.22],[-3.3,7.61],[-2.6,7.15],[-2.0,7.88],[-1.4,7.43],[-0.7,7.76],[-0.1,7.19],[0.6,7.52],[1.2,7.07],[1.9,7.92],[2.4,7.34],[3.1,7.65],[3.7,7.28],[4.4,7.83],[5.0,7.01],[5.6,7.45],[6.4,7.73],[6.9,7.39],[7.7,7.96],[8.4,7.12],[9.1,7.58],
  [-9.9,6.05],[-9.3,6.51],[-8.5,6.89],[-7.9,6.24],[-7.3,6.64],[-6.6,6.42],[-6.0,6.17],[-5.4,6.73],[-4.7,6.96],[-4.2,6.35],[-3.5,6.81],[-2.9,6.08],[-2.3,6.57],[-1.7,6.26],[-1.0,6.93],[-0.4,6.48],[0.3,6.14],[0.9,6.69],[1.5,6.87],[2.2,6.31],[2.8,6.03],[3.4,6.59],[4.1,6.46],[4.7,6.16],[5.3,6.74],[6.0,6.22],[6.6,6.91],[7.3,6.53],[8.0,6.11],[8.7,6.67],[9.5,6.82],
  [-10.1,5.72],[-9.4,5.18],[-8.7,5.45],[-8.0,5.91],[-7.5,5.33],[-6.8,5.06],[-6.2,5.58],[-5.6,5.84],[-4.9,5.27],[-4.3,5.63],[-3.7,5.12],[-3.0,5.49],[-2.4,5.95],[-1.8,5.38],[-1.2,5.71],[-0.5,5.02],[0.1,5.55],[0.8,5.86],[1.4,5.24],[2.0,5.67],[2.6,5.41],[3.3,5.09],[3.9,5.78],[4.5,5.31],[5.2,5.52],[5.8,5.97],[6.5,5.15],[7.1,5.62],[7.8,5.36],[8.5,5.88],[9.3,5.21],
  [-10.3,4.05],[-9.6,4.51],[-8.9,4.89],[-8.3,4.24],[-7.6,4.64],[-7.1,4.42],[-6.3,4.17],[-5.8,4.73],[-5.1,4.96],[-4.5,4.35],[-3.8,4.81],[-3.3,4.08],[-2.6,4.57],[-2.0,4.26],[-1.4,4.93],[-0.7,4.48],[-0.1,4.14],[0.6,4.69],[1.2,4.87],[1.9,4.31],[2.4,4.03],[3.1,4.59],[3.7,4.46],[4.4,4.16],[5.0,4.74],[5.6,4.22],[6.4,4.91],[6.9,4.53],[7.7,4.11],[8.4,4.67],[9.1,4.82],
  [-9.9,3.72],[-9.3,3.18],[-8.5,3.45],[-7.9,3.91],[-7.3,3.33],[-6.6,3.06],[-6.0,3.58],[-5.4,3.84],[-4.7,3.27],[-4.2,3.63],[-3.5,3.12],[-2.9,3.49],[-2.3,3.95],[-1.7,3.38],[-1.0,3.71],[-0.4,3.02],[0.3,3.55],[0.9,3.86],[1.5,3.24],[2.2,3.67],[2.8,3.41],[3.4,3.09],[4.1,3.78],[4.7,3.31],[5.3,3.52],[6.0,3.97],[6.6,3.15],[7.3,3.62],[8.0,3.36],[8.7,3.88],[9.5,3.21],
  [-10.1,2.37],[-9.4,2.83],[-8.7,2.11],[-8.0,2.56],[-7.5,2.94],[-6.8,2.29],[-6.2,2.68],[-5.6,2.04],[-4.9,2.47],[-4.3,2.79],[-3.7,2.22],[-3.0,2.61],[-2.4,2.15],[-1.8,2.88],[-1.2,2.43],[-0.5,2.76],[0.1,2.19],[0.8,2.52],[1.4,2.07],[2.0,2.92],[2.6,2.34],[3.3,2.65],[3.9,2.28],[4.5,2.83],[5.2,2.01],[5.8,2.45],[6.5,2.73],[7.1,2.39],[7.8,2.96],[8.5,2.12],[9.3,2.58],
  [-10.3,1.72],[-9.6,1.18],[-8.9,1.45],[-8.3,1.91],[-7.6,1.33],[-7.1,1.06],[-6.3,1.58],[-5.8,1.84],[-5.1,1.27],[-4.5,1.63],[-3.8,1.12],[-3.3,1.49],[-2.6,1.95],[-2.0,1.38],[-1.4,1.71],[-0.7,1.02],[-0.1,1.55],[0.6,1.86],[1.2,1.24],[1.9,1.67],[2.4,1.41],[3.1,1.09],[3.7,1.78],[4.4,1.31],[5.0,1.52],[5.6,1.97],[6.4,1.15],[6.9,1.62],[7.7,1.36],[8.4,1.88],[9.1,1.21],
  [-9.9,0.05],[-9.3,0.51],[-8.5,0.89],[-7.9,0.24],[-7.3,0.64],[-6.6,0.42],[-6.0,0.17],[-5.4,0.73],[-4.7,0.96],[-4.2,0.35],[-3.5,0.81],[-2.9,0.08],[-2.3,0.57],[-1.7,0.26],[-1.0,0.93],[-0.4,0.48],[0.3,0.14],[0.9,0.69],[1.5,0.87],[2.2,0.31],[2.8,0.03],[3.4,0.59],[4.1,0.46],[4.7,0.16],[5.3,0.74],[6.0,0.22],[6.6,0.91],[7.3,0.53],[8.0,0.11],[8.7,0.67],[9.5,0.82],
  [-10.1,-0.28],[-9.4,-0.82],[-8.7,-0.55],[-8.0,-0.09],[-7.5,-0.67],[-6.8,-0.94],[-6.2,-0.42],[-5.6,-0.16],[-4.9,-0.73],[-4.3,-0.37],[-3.7,-0.88],[-3.0,-0.51],[-2.4,-0.05],[-1.8,-0.62],[-1.2,-0.29],[-0.5,-0.98],[0.1,-0.45],[0.8,-0.14],[1.4,-0.76],[2.0,-0.33],[2.6,-0.59],[3.3,-0.91],[3.9,-0.22],[4.5,-0.69],[5.2,-0.48],[5.8,-0.03],[6.5,-0.85],[7.1,-0.38],[7.8,-0.64],[8.5,-0.12],[9.3,-0.79],
  [-10.3,-1.63],[-9.6,-1.17],[-8.9,-1.89],[-8.3,-1.44],[-7.6,-1.06],[-7.1,-1.71],[-6.3,-1.32],[-5.8,-1.96],[-5.1,-1.53],[-4.5,-1.21],[-3.8,-1.78],[-3.3,-1.39],[-2.6,-1.85],[-2.0,-1.12],[-1.4,-1.57],[-0.7,-1.24],[-0.1,-1.81],[0.6,-1.48],[1.2,-1.93],[1.9,-1.08],[2.4,-1.66],[3.1,-1.35],[3.7,-1.72],[4.4,-1.17],[5.0,-1.99],[5.6,-1.55],[6.4,-1.27],[6.9,-1.61],[7.7,-1.04],[8.4,-1.88],[9.1,-1.42],
  [-9.9,-2.28],[-9.3,-2.82],[-8.5,-2.55],[-7.9,-2.09],[-7.3,-2.67],[-6.6,-2.94],[-6.0,-2.42],[-5.4,-2.16],[-4.7,-2.73],[-4.2,-2.37],[-3.5,-2.88],[-2.9,-2.51],[-2.3,-2.05],[-1.7,-2.62],[-1.0,-2.29],[-0.4,-2.98],[0.3,-2.45],[0.9,-2.14],[1.5,-2.76],[2.2,-2.33],[2.8,-2.59],[3.4,-2.91],[4.1,-2.22],[4.7,-2.69],[5.3,-2.48],[6.0,-2.03],[6.6,-2.85],[7.3,-2.38],[8.0,-2.64],[8.7,-2.12],[9.5,-2.79],
  [-10.1,-3.95],[-9.4,-3.49],[-8.7,-3.11],[-8.0,-3.76],[-7.5,-3.36],[-6.8,-3.58],[-6.2,-3.83],[-5.6,-3.27],[-4.9,-3.04],[-4.3,-3.65],[-3.7,-3.19],[-3.0,-3.92],[-2.4,-3.43],[-1.8,-3.74],[-1.2,-3.07],[-0.5,-3.52],[0.1,-3.86],[0.8,-3.31],[1.4,-3.13],[2.0,-3.69],[2.6,-3.97],[3.3,-3.41],[3.9,-3.54],[4.5,-3.84],[5.2,-3.26],[5.8,-3.78],[6.5,-3.09],[7.1,-3.47],[7.8,-3.89],[8.5,-3.33],[9.3,-3.18],
  [-10.3,-4.28],[-9.6,-4.82],[-8.9,-4.55],[-8.3,-4.09],[-7.6,-4.67],[-7.1,-4.94],[-6.3,-4.42],[-5.8,-4.16],[-5.1,-4.73],[-4.5,-4.37],[-3.8,-4.88],[-3.3,-4.51],[-2.6,-4.05],[-2.0,-4.62],[-1.4,-4.29],[-0.7,-4.98],[-0.1,-4.45],[0.6,-4.14],[1.2,-4.76],[1.9,-4.33],[2.4,-4.59],[3.1,-4.91],[3.7,-4.22],[4.4,-4.69],[5.0,-4.48],[5.6,-4.03],[6.4,-4.85],[6.9,-4.38],[7.7,-4.64],[8.4,-4.12],[9.1,-4.79],
  [-9.9,-5.63],[-9.3,-5.17],[-8.5,-5.89],[-7.9,-5.44],[-7.3,-5.06],[-6.6,-5.71],[-6.0,-5.32],[-5.4,-5.96],[-4.7,-5.53],[-4.2,-5.21],[-3.5,-5.78],[-2.9,-5.39],[-2.3,-5.85],[-1.7,-5.12],[-1.0,-5.57],[-0.4,-5.24],[0.3,-5.81],[0.9,-5.48],[1.5,-5.93],[2.2,-5.08],[2.8,-5.66],[3.4,-5.35],[4.1,-5.72],[4.7,-5.17],[5.3,-5.99],[6.0,-5.55],[6.6,-5.27],[7.3,-5.61],[8.0,-5.04],[8.7,-5.88],[9.5,-5.42],
  [-10.1,-6.28],[-9.4,-6.82],[-8.7,-6.55],[-8.0,-6.09],[-7.5,-6.67],[-6.8,-6.94],[-6.2,-6.42],[-5.6,-6.16],[-4.9,-6.73],[-4.3,-6.37],[-3.7,-6.88],[-3.0,-6.51],[-2.4,-6.05],[-1.8,-6.62],[-1.2,-6.29],[-0.5,-6.98],[0.1,-6.45],[0.8,-6.14],[1.4,-6.76],[2.0,-6.33],[2.6,-6.59],[3.3,-6.91],[3.9,-6.22],[4.5,-6.69],[5.2,-6.48],[5.8,-6.03],[6.5,-6.85],[7.1,-6.38],[7.8,-6.64],[8.5,-6.12],[9.3,-6.79],
  [-10.3,-7.95],[-9.6,-7.49],[-8.9,-7.11],[-8.3,-7.76],[-7.6,-7.36],[-7.1,-7.58],[-6.3,-7.83],[-5.8,-7.27],[-5.1,-7.04],[-4.5,-7.65],[-3.8,-7.19],[-3.3,-7.92],[-2.6,-7.43],[-2.0,-7.74],[-1.4,-7.07],[-0.7,-7.52],[-0.1,-7.86],[0.6,-7.31],[1.2,-7.13],[1.9,-7.69],[2.4,-7.97],[3.1,-7.41],[3.7,-7.54],[4.4,-7.84],[5.0,-7.26],[5.6,-7.78],[6.4,-7.09],[6.9,-7.47],[7.7,-7.89],[8.4,-7.33],[9.1,-7.18],
  [-9.9,-8.28],[-9.3,-8.82],[-8.5,-8.55],[-7.9,-8.09],[-7.3,-8.67],[-6.6,-8.94],[-6.0,-8.42],[-5.4,-8.16],[-4.7,-8.73],[-4.2,-8.37],[-3.5,-8.88],[-2.9,-8.51],[-2.3,-8.05],[-1.7,-8.62],[-1.0,-8.29],[-0.4,-8.98],[0.3,-8.45],[0.9,-8.14],[1.5,-8.76],[2.2,-8.33],[2.8,-8.59],[3.4,-8.91],[4.1,-8.22],[4.7,-8.69],[5.3,-8.48],[6.0,-8.03],[6.6,-8.85],[7.3,-8.38],[8.0,-8.64],[8.7,-8.12],[9.5,-8.79],
  [-10.1,-9.63],[-9.4,-9.17],[-8.7,-9.89],[-8.0,-9.44],[-7.5,-9.06],[-6.8,-9.71],[-6.2,-9.32],[-5.6,-9.96],[-4.9,-9.53],[-4.3,-9.21],[-3.7,-9.78],[-3.0,-9.39],[-2.4,-9.85],[-1.8,-9.12],[-1.2,-9.57],[-0.5,-9.24],[0.1,-9.81],[0.8,-9.48],[1.4,-9.93],[2.0,-9.08],[2.6,-9.66],[3.3,-9.35],[3.9,-9.72],[4.5,-9.17],[5.2,-9.99],[5.8,-9.55],[6.5,-9.27],[7.1,-9.61],[7.8,-9.04],[8.5,-9.88],[9.3,-9.42],
  [-9.6,-10.82],[-8.9,-10.55],[-8.3,-10.09],[-7.6,-10.67],[-7.1,-10.94],[-6.3,-10.42],[-5.8,-10.16],[-5.1,-10.73],[-4.5,-10.37],[-3.8,-10.88],[-3.3,-10.51],[-2.6,-10.05],[-2.0,-10.62],[-1.4,-10.29],[-0.7,-10.98],[-0.1,-10.45],[0.6,-10.14],[1.2,-10.76],[1.9,-10.33],[2.4,-10.59],[3.1,-10.91],[3.7,-10.22],[4.4,-10.69],[5.0,-10.48],[5.6,-10.03],[6.4,-10.85],[6.9,-10.38],[7.7,-10.64],[8.4,-10.12],
  [-9.3,-11.49],[-8.5,-11.11],[-7.3,-11.36],[-6.6,-11.58],[-5.4,-11.27],[-4.7,-11.04],[-3.5,-11.19],[-2.9,-11.92],[-1.7,-11.74],[-1.0,-11.07],[0.3,-11.86],[0.9,-11.31],[2.2,-11.69],[2.8,-11.97],[4.1,-11.54],[4.7,-11.84],[6.0,-11.78],[6.6,-11.09],[8.0,-11.89],
  [-8.7,-12.55],[-7.5,-12.67],[-6.2,-12.42],[-4.9,-12.73],[-3.7,-12.88],[-2.4,-12.05],[-1.2,-12.29],[0.1,-12.45],[1.4,-12.76],[2.6,-12.59],[3.9,-12.22],[5.2,-12.48],[6.5,-12.85],[7.8,-12.64]
];

const eastTicks = [-25, 25];
const northTicks = [-25, 25];

document.addEventListener("DOMContentLoaded", () => {
  const FONT = '"Liberation Sans", Arial, Helvetica, sans-serif';
  const INK = '#262626';
  Chart.defaults.font.family = FONT;
  Chart.defaults.font.size = 16;
  Chart.defaults.color = INK;
  Chart.defaults.animation = false;

  // Box around the axes with inward tick marks on all four sides.
  const axesBox = {
    id: 'axesBox',
    afterDraw(chart) {
      const { ctx, chartArea: a, scales } = chart;
      const L = Math.round(a.left) + 0.5, R = Math.round(a.right) - 0.5;
      const T = Math.round(a.top) + 0.5, B = Math.round(a.bottom) - 0.5;
      ctx.save();
      ctx.strokeStyle = INK;
      ctx.lineWidth = 1;
      ctx.beginPath();
      scales.x.ticks.forEach(t => {
        const px = Math.round(scales.x.getPixelForValue(t.value)) + 0.5;
        ctx.moveTo(px, B); ctx.lineTo(px, B - 5);
        ctx.moveTo(px, T); ctx.lineTo(px, T + 5);
      });
      scales.y.ticks.forEach(t => {
        const py = Math.round(scales.y.getPixelForValue(t.value)) + 0.5;
        ctx.moveTo(L, py); ctx.lineTo(L + 5, py);
        ctx.moveTo(R, py); ctx.lineTo(R - 5, py);
      });
      ctx.rect(L, T, R - L, B - T);
      ctx.stroke();
      ctx.restore();
    }
  };

  // Two-line panel title above the plot box.
  const panelTitle = {
    id: 'panelTitle',
    afterDraw(chart, args, opts) {
      const { ctx, chartArea: a } = chart;
      ctx.save();
      ctx.font = '16.8px ' + FONT;
      ctx.fillStyle = INK;
      ctx.textAlign = 'center';
      ctx.textBaseline = 'middle';
      const cx = (a.left + a.right) / 2;
      opts.lines.forEach((line, i) => ctx.fillText(line, cx, 17 + i * 24));
      ctx.restore();
    }
  };

  // Red labels for the mean separation lines.
  const meanLabels = {
    id: 'meanLabels',
    afterDatasetsDraw(chart) {
      const { ctx, scales: { x, y } } = chart;
      ctx.save();
      ctx.font = '16.5px ' + FONT;
      ctx.fillStyle = '#ff0000';
      ctx.textAlign = 'left';
      ctx.textBaseline = 'alphabetic';
      ctx.fillText(meanNorth.toFixed(4), x.getPixelForValue(-24.05), y.getPixelForValue(meanNorth) - 5);
      ctx.fillText(meanEast.toFixed(4), x.getPixelForValue(meanEast) + 4, y.getPixelForValue(-23.9));
      ctx.restore();
    }
  };

  // Hatched fill for the histogram bars.
  const tile = document.createElement('canvas');
  tile.width = 6; tile.height = 6;
  const tctx = tile.getContext('2d');
  tctx.fillStyle = '#30288c';
  tctx.fillRect(0, 0, 6, 6);
  tctx.strokeStyle = 'rgba(140,130,215,0.55)';
  tctx.lineWidth = 1;
  tctx.beginPath();
  tctx.moveTo(0, 6); tctx.lineTo(6, 0);
  tctx.stroke();
  const hatch = tctx.createPattern(tile, 'repeat');

  const plainLabel = v => String(v);

  // (a) histogram
  new Chart(document.getElementById('histChart'), {
    type: 'bar',
    data: {
      datasets: [{
        data: binCenters.map((c, i) => ({ x: c, y: binCounts[i] })),
        backgroundColor: hatch,
        borderColor: '#111111',
        borderWidth: 0.8,
        barPercentage: 1,
        categoryPercentage: 1
      }]
    },
    options: {
      responsive: false,
      devicePixelRatio: 1,
      layout: { padding: { top: 58, right: 23, bottom: 0, left: 0 } },
      plugins: {
        legend: { display: false },
        tooltip: { enabled: false },
        panelTitle: { lines: ['(a) Time difference between the 2754', 'Flash Event Locations'] }
      },
      scales: {
        x: {
          type: 'linear',
          min: -330,
          max: 330,
          offset: false,
          grid: { display: false, offset: false },
          border: { display: false },
          afterBuildTicks: s => { s.ticks = histTicks.map(v => ({ value: v })); },
          afterFit: s => { s.height = 53; },
          ticks: { padding: 2, maxRotation: 0, autoSkip: false, color: INK, callback: plainLabel },
          title: { display: true, text: 'Time difference (ms)', padding: { top: 0, bottom: 6 }, color: INK }
        },
        y: {
          min: 0,
          max: 1200,
          grid: { display: false },
          border: { display: false },
          afterFit: s => { s.width = 76; },
          ticks: { stepSize: 200, padding: 6, color: INK, callback: plainLabel },
          title: { display: true, text: 'N', padding: { top: 11, bottom: 0 }, color: INK }
        }
      }
    },
    plugins: [axesBox, panelTitle]
  });

  // (b) scatter of separations
  const sepPoints = outerPoints.concat(ringPoints, corePoints, corePoints2).map(p => ({ x: p[0], y: p[1] }));
  new Chart(document.getElementById('scatterChart'), {
    type: 'scatter',
    data: {
      datasets: [
        {
          data: northTicks.map(v => ({ x: meanEast, y: v })),
          showLine: true,
          borderColor: '#ff0000',
          borderWidth: 1.3,
          borderDash: [8, 4],
          pointRadius: 0
        },
        {
          data: eastTicks.map(v => ({ x: v, y: meanNorth })),
          showLine: true,
          borderColor: '#ff0000',
          borderWidth: 1.3,
          borderDash: [7, 4],
          pointRadius: 0
        },
        {
          data: sepPoints,
          pointStyle: 'rect',
          pointRadius: 1.45,
          backgroundColor: '#0072BD',
          borderWidth: 0
        }
      ]
    },
    options: {
      responsive: false,
      devicePixelRatio: 1,
      layout: { padding: { top: 58, right: 15, bottom: 0, left: 0 } },
      plugins: {
        legend: { display: false },
        tooltip: { enabled: false },
        panelTitle: { lines: ['(b) The west-east and south-north Spatial-separation', 'between the 2754 Flash Event Locations'] }
      },
      scales: {
        x: {
          min: -25,
          max: 25,
          grid: { display: false },
          border: { display: false },
          afterFit: s => { s.height = 53; },
          ticks: { stepSize: 5, padding: 2, maxRotation: 0, autoSkip: false, color: INK, callback: plainLabel },
          title: { display: true, text: 'West-east Distance (km)', padding: { top: 0, bottom: 6 }, color: INK }
        },
        y: {
          min: -25,
          max: 25,
          grid: { display: false },
          border: { display: false },
          afterFit: s => { s.width = 85; },
          ticks: { stepSize: 5, padding: 6, autoSkip: false, color: INK, callback: plainLabel },
          title: { display: true, text: 'South-north Distance(km)', padding: { top: 33, bottom: 0 }, color: INK }
        }
      }
    },
    plugins: [axesBox, panelTitle, meanLabels]
  });
});
</script>
</body>
</html>
